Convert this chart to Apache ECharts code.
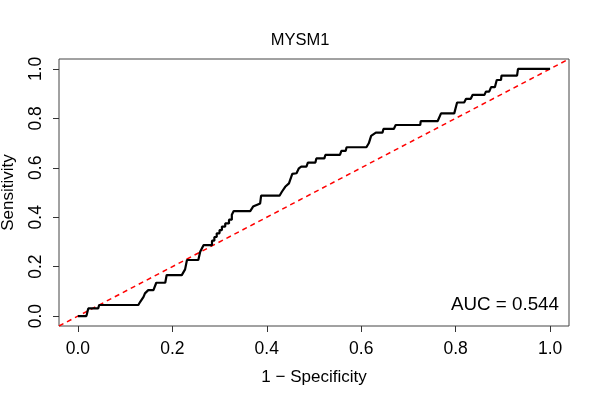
<!DOCTYPE html>
<html>
<head>
<meta charset="utf-8">
<script src="https://cdn.jsdelivr.net/npm/echarts@6/dist/echarts.min.js"></script>
<style>
  html, body { margin: 0; padding: 0; background: #fff; }
  #roc { width: 600px; height: 400px; }
</style>
</head>
<body>
<div id="roc"></div>
<script>
// ROC curve corners (1 - specificity, sensitivity)
var fpr = [0, 0.018, 0.022, 0.043, 0.045, 0.128, 0.132, 0.139, 0.142, 0.149,
  0.160, 0.166, 0.185, 0.188, 0.220, 0.227, 0.231, 0.255, 0.259, 0.266,
  0.284, 0.284, 0.289, 0.289, 0.294, 0.294, 0.300, 0.300, 0.305, 0.305,
  0.312, 0.312, 0.320, 0.320, 0.326, 0.326, 0.330, 0.330,
  0.365, 0.371, 0.386,
  0.388, 0.427, 0.432, 0.439, 0.447, 0.454, 0.463, 0.468, 0.473, 0.484,
  0.487, 0.503, 0.505, 0.522, 0.524, 0.555, 0.558, 0.567, 0.569, 0.611,
  0.616, 0.621, 0.631, 0.645, 0.647, 0.669, 0.673, 0.725, 0.726, 0.762,
  0.769, 0.797, 0.803, 0.818, 0.822, 0.832, 0.836, 0.861, 0.864, 0.871,
  0.875, 0.883, 0.887, 0.896, 0.897, 0.930, 0.932, 1.0];
var tpr = [0, 0, 0.031, 0.031, 0.045, 0.045, 0.058, 0.078, 0.092, 0.105,
  0.105, 0.135, 0.135, 0.166, 0.166, 0.189, 0.227, 0.227, 0.260, 0.287,
  0.287, 0.305, 0.305, 0.320, 0.320, 0.335, 0.335, 0.348, 0.348, 0.362,
  0.362, 0.375, 0.375, 0.390, 0.390, 0.410, 0.410, 0.425,
  0.425, 0.443, 0.456,
  0.487, 0.487, 0.503, 0.523, 0.537, 0.575, 0.578, 0.598, 0.605, 0.605,
  0.621, 0.621, 0.638, 0.638, 0.652, 0.652, 0.668, 0.668, 0.683, 0.683,
  0.699, 0.729, 0.742, 0.742, 0.757, 0.757, 0.773, 0.773, 0.789, 0.789,
  0.820, 0.820, 0.864, 0.864, 0.879, 0.879, 0.895, 0.895, 0.908, 0.908,
  0.926, 0.926, 0.955, 0.955, 0.973, 0.973, 1.0, 1.0];
// chance line (abline 0,1) across the padded plot range
var chanceX = [-0.04, 1.04];
var chanceY = [-0.04, 1.04];
var tickValues = [0, 0.2, 0.4, 0.6, 0.8, 1.0];
var aucText = 'AUC = 0.544';

var font = 'Liberation Sans, Arial, Helvetica, sans-serif';

function pairs(xs, ys) {
  var out = [];
  for (var i = 0; i < xs.length; i++) out.push([xs[i], ys[i]]);
  return out;
}

var chart = echarts.init(document.getElementById('roc'));

var option = {
  backgroundColor: '#fff',
  animation: false,
  textStyle: { fontFamily: font },
  title: {
    text: 'MYSM1',
    left: 'center',
    top: 27,
    textStyle: { fontSize: 16.5, fontWeight: 'normal', color: '#000', fontFamily: font }
  },
  grid: {
    left: 59, right: 31, top: 59, bottom: 74,
    outerBoundsMode: 'none',
    containLabel: false,
    show: true, borderColor: '#444', borderWidth: 1, backgroundColor: 'transparent'
  },
  xAxis: {
    type: 'value', min: -0.04, max: 1.04,
    name: '1 \u2212 Specificity', nameLocation: 'middle', nameGap: 43,
    nameTextStyle: { fontSize: 17, color: '#000', fontFamily: font },
    axisLine: { show: false, onZero: false },
    splitLine: { show: false },
    axisTick: { show: true, length: 6, inside: false, customValues: tickValues,
      lineStyle: { color: '#333' } },
    axisLabel: { customValues: tickValues, margin: 14, fontSize: 17.5, color: '#000',
      fontFamily: font, formatter: function (v) { return v.toFixed(1); } }
  },
  yAxis: {
    type: 'value', min: -0.04, max: 1.04,
    name: 'Sensitivity', nameLocation: 'middle', nameGap: 42, nameRotate: 90,
    nameTextStyle: { fontSize: 17, color: '#000', fontFamily: font },
    axisLine: { show: false, onZero: false },
    splitLine: { show: false },
    axisTick: { show: true, length: 6, inside: false, customValues: tickValues,
      lineStyle: { color: '#333' } },
    axisLabel: { customValues: tickValues, rotate: 90, margin: 14, fontSize: 17.5, color: '#000',
      fontFamily: font, align: 'center', verticalAlign: 'bottom',
      formatter: function (v) { return v.toFixed(1); } }
  },
  graphic: [{
    type: 'text',
    right: 41,
    top: 295,
    style: { text: aucText, fill: '#000', font: '18.8px ' + font }
  }],
  series: [{
    name: 'chance',
    type: 'line',
    data: pairs(chanceX, chanceY),
    showSymbol: false,
    silent: true,
    lineStyle: { color: '#ff0000', width: 1.5, type: [5, 4] },
    z: 1
  }, {
    name: 'ROC',
    type: 'line',
    data: pairs(fpr, tpr),
    showSymbol: false,
    silent: true,
    lineStyle: { color: '#000', width: 2.2 },
    z: 2
  }]
};

chart.setOption(option);
</script>
</body>
</html>
